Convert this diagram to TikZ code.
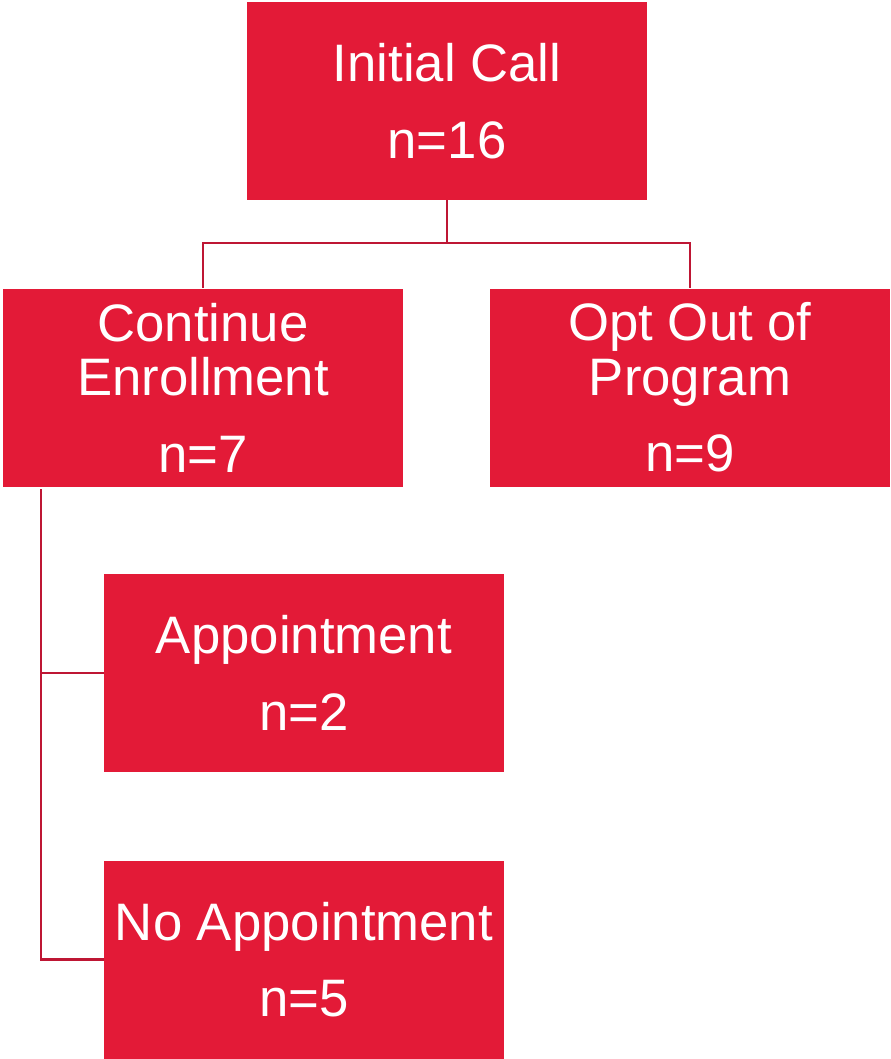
\documentclass[tikz,border=0pt]{standalone}
\usepackage{fontspec}
\setmainfont{Liberation Sans}
\usetikzlibrary{positioning}
\definecolor{boxred}{RGB}{227,26,55}
\definecolor{linered}{RGB}{190,22,52}

\begin{document}
\begin{tikzpicture}[
    stepbox/.style={fill=boxred, text=white, minimum width=8cm, minimum height=3.96cm,
        align=center, inner sep=0pt, font=\fontsize{30}{31}\selectfont},
    link/.style={draw=linered, line width=1.5pt}
]
    \useasboundingbox (0,0) rectangle (17.8,-21.18);

    % top
    \node[stepbox] (init) at (8.94, -2.02) {Initial Call\\[12.5pt]n=16};
    % second row
    \node[stepbox] (cont) at (4.06, -7.75) {Continue\\Enrollment\\[12.5pt]n=7};
    \node[stepbox] (opt) at (13.8, -7.75) {Opt Out of\\Program\\[12.5pt]n=9};
    % under continue
    \node[stepbox] (app) at (6.08, -13.46) {Appointment\\[12.5pt]n=2};
    \node[stepbox] (noapp) at (6.08, -19.19) {No Appointment\\[12.5pt]n=5};

    \coordinate (fork) at (8.94, -4.86);
    \coordinate (trunk) at (0.82, -9.78);

    \draw[link] (init.south) -- (fork) -| (cont.north);
    \draw[link] (fork) -| (opt.north);
    \draw[link] (trunk) |- (noapp.west);
    \draw[link] (trunk |- app.west) -- (app.west);
\end{tikzpicture}
\end{document}
